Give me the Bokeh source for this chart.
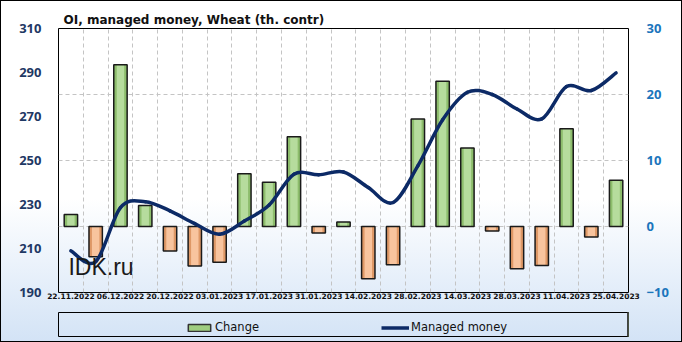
import numpy as np
from bokeh.plotting import figure
from bokeh.layouts import column
from bokeh.models import (Range1d, LinearAxis, FixedTicker, Grid, Legend, LegendItem,
                          Label, ColumnDataSource)
from bokeh.embed import file_html
from bokeh.resources import INLINE

# ---------------- data ----------------
dates = ["22.11.2022", "29.11.2022", "06.12.2022", "13.12.2022", "20.12.2022", "27.12.2022",
         "03.01.2023", "10.01.2023", "17.01.2023", "24.01.2023", "31.01.2023", "07.02.2023",
         "14.02.2023", "21.02.2023", "28.02.2023", "07.03.2023", "14.03.2023", "21.03.2023",
         "28.03.2023", "04.04.2023", "11.04.2023", "18.04.2023", "25.04.2023"]
change = [1.8, -4.6, 24.5, 3.2, -3.7, -6.0, -5.4, 8.0, 6.7, 13.6, -1.0, 0.7,
          -7.9, -5.8, 16.3, 22.0, 11.9, -0.7, -6.4, -5.9, 14.8, -1.6, 7.0]
managed = [208.9, 204.0, 228.6, 231.3, 227.1, 221.3, 216.5, 222.5, 229.8, 243.8, 243.5, 244.8,
           237.7, 230.9, 247.6, 268.5, 281.0, 280.0, 273.4, 268.9, 283.6, 281.8, 289.8]
left_ticks = [190, 210, 230, 250, 270, 290, 310]
right_ticks = [-10, 0, 10, 20, 30]
grid_ticks_right = [0, 10, 20]
title_text = "OI, managed money, Wheat (th. contr)"
watermark = "IDK.ru"

GREEN_EDGE, GREEN_MID = "#8dbd6c", "#b6dc9d"
ORANGE_EDGE, ORANGE_MID = "#de9866", "#f8c49e"
LINE_COL = "#0c2a66"

n = len(dates)
xs = np.arange(n) + 0.5

p = figure(width=682, height=312, output_backend="svg", toolbar_location=None,
           x_range=Range1d(0, n), y_range=Range1d(min(left_ticks), max(left_ticks)),
           min_border_left=58, min_border_right=54, min_border_top=28, min_border_bottom=20,
           background_fill_color=None, border_fill_color=None,
           outline_line_color="black", outline_line_width=1)
p.extra_y_ranges = {"chg": Range1d(min(right_ticks), max(right_ticks))}

# title
p.title.text = title_text
p.title.text_font = "DejaVu Sans"
p.title.text_font_size = "12px"
p.title.text_font_style = "bold"
p.title.text_color = "#111111"
p.title.offset = 5
p.title.standoff = 4

# grids
p.xgrid.visible = False
p.ygrid.visible = False
vgrid = Grid(dimension=0, ticker=FixedTicker(ticks=list(range(1, n))),
             grid_line_color="#c4c4c4", grid_line_dash="4 3", grid_line_width=1)
hgrid = Grid(dimension=1, ticker=FixedTicker(ticks=grid_ticks_right), y_range_name="chg",
             grid_line_color="#c4c4c4", grid_line_dash="4 3", grid_line_width=1)
p.add_layout(vgrid)
p.add_layout(hgrid)

# axes
xa = p.xaxis[0]
xa.ticker = FixedTicker(ticks=[float(x) for x in xs[::2]])
xa.major_label_overrides = {float(x): d for x, d in zip(xs[::2], dates[::2])}
xa.major_label_text_font = "DejaVu Sans"
xa.major_label_text_font_style = "bold"
xa.major_label_text_font_size = "7.5px"
xa.major_label_text_color = "#111111"
xa.major_label_standoff = 0
xa.major_tick_out = 0
xa.major_tick_in = 0
xa.axis_line_color = None
xa.major_tick_line_color = None
xa.minor_tick_line_color = None

ya = p.yaxis[0]
ya.ticker = FixedTicker(ticks=left_ticks)
ya.major_label_text_font = "Noto Sans"
ya.major_label_text_font_style = "bold"
ya.major_label_text_font_size = "13px"
ya.major_label_text_color = "#1f3864"
ya.major_label_standoff = 11
ya.axis_line_color = None
ya.major_tick_line_color = None
ya.minor_tick_line_color = None

ra = LinearAxis(y_range_name="chg", ticker=FixedTicker(ticks=right_ticks))
ra.major_label_text_font = "Noto Sans"
ra.major_label_text_font_style = "bold"
ra.major_label_text_font_size = "13px"
ra.major_label_text_color = "#1b75bc"
ra.major_label_standoff = 12
ra.axis_line_color = None
ra.major_tick_line_color = None
ra.minor_tick_line_color = None
p.add_layout(ra, "right")

# bars
edge_col = [GREEN_EDGE if v >= 0 else ORANGE_EDGE for v in change]
mid_col = [GREEN_MID if v >= 0 else ORANGE_MID for v in change]
src = ColumnDataSource(dict(x=xs, top=change, edge=edge_col, mid=mid_col))
p.vbar(x="x", top="top", bottom=0, width=0.54, source=src, y_range_name="chg",
       fill_color="edge", line_color=None)
p.vbar(x="x", top="top", bottom=0, width=0.3, source=src, y_range_name="chg",
       fill_color="mid", line_color=None)
p.vbar(x="x", top="top", bottom=0, width=0.54, source=src, y_range_name="chg",
       fill_color=None, line_color="#1a1a1a", line_width=1.5)

# smoothed line (Catmull-Rom style bezier segments through the data points)
pts_x = list(xs)
pts_y = list(managed)
x0s, y0s, x1s, y1s, cx0, cy0, cx1, cy1 = [], [], [], [], [], [], [], []
for i in range(n - 1):
    xa_, ya_ = (pts_x[i - 1], pts_y[i - 1]) if i > 0 else (pts_x[i], pts_y[i])
    xb, yb = pts_x[i], pts_y[i]
    xc, yc = pts_x[i + 1], pts_y[i + 1]
    xd, yd = (pts_x[i + 2], pts_y[i + 2]) if i + 2 < n else (pts_x[i + 1], pts_y[i + 1])
    x0s.append(xb); y0s.append(yb); x1s.append(xc); y1s.append(yc)
    cx0.append(xb + (xc - xa_) / 6.0); cy0.append(yb + (yc - ya_) / 6.0)
    cx1.append(xc - (xd - xb) / 6.0); cy1.append(yc - (yd - yb) / 6.0)
bz = ColumnDataSource(dict(x0=x0s, y0=y0s, x1=x1s, y1=y1s, cx0=cx0, cy0=cy0, cx1=cx1, cy1=cy1))
p.bezier(x0="x0", y0="y0", x1="x1", y1="y1", cx0="cx0", cy0="cy0", cx1="cx1", cy1="cy1",
         source=bz, line_color=LINE_COL, line_width=3.5, line_cap="round")

# watermark
p.add_layout(Label(x=0.4, y=201.5, text=watermark, text_font="Liberation Sans",
                   text_font_size="23px", text_color="#1a1a1a", text_baseline="alphabetic"))

# ---------------- legend strip (its frame is the legend box) ----------------
# the strip's ranges lie away from the data, so its proxy glyphs only show in the legend
q = figure(width=682, height=30, output_backend="svg", toolbar_location=None,
           x_range=Range1d(-3, -2), y_range=Range1d(-3, -2),
           x_axis_type=None, y_axis_type=None,
           min_border_left=58, min_border_right=54, min_border_top=0, min_border_bottom=6,
           background_fill_color=None, border_fill_color=None,
           outline_line_color="black", outline_line_width=1)
q.xgrid.visible = False
q.ygrid.visible = False
leg_bar = q.vbar(x="x", top="top", bottom=0, width=0.5, source=src,
                 fill_color="#9fcd80", line_color="#333333", line_width=1.5)
leg_line = q.line(x=xs, y=managed, line_color=LINE_COL, line_width=3.5)
legend = Legend(items=[LegendItem(label="Change", renderers=[leg_bar]),
                       LegendItem(label="Managed money", renderers=[leg_line])],
                orientation="horizontal", location=(127, 2), padding=0, margin=0,
                spacing=46, label_width=120, glyph_width=28, glyph_height=9,
                label_standoff=2, border_line_color=None, background_fill_alpha=0,
                label_text_font="DejaVu Sans", label_text_font_size="11.5px",
                label_text_color="#111111")
q.add_layout(legend)

layout = column(p, q, spacing=0)
layout.styles = {"background": "linear-gradient(180deg, #ffffff 0%, #ffffff 58%, #d3e3f6 100%)",
                 "box-shadow": "inset 0 0 0 1px #000000"}

open("out.html", "w").write(file_html(layout, INLINE))
